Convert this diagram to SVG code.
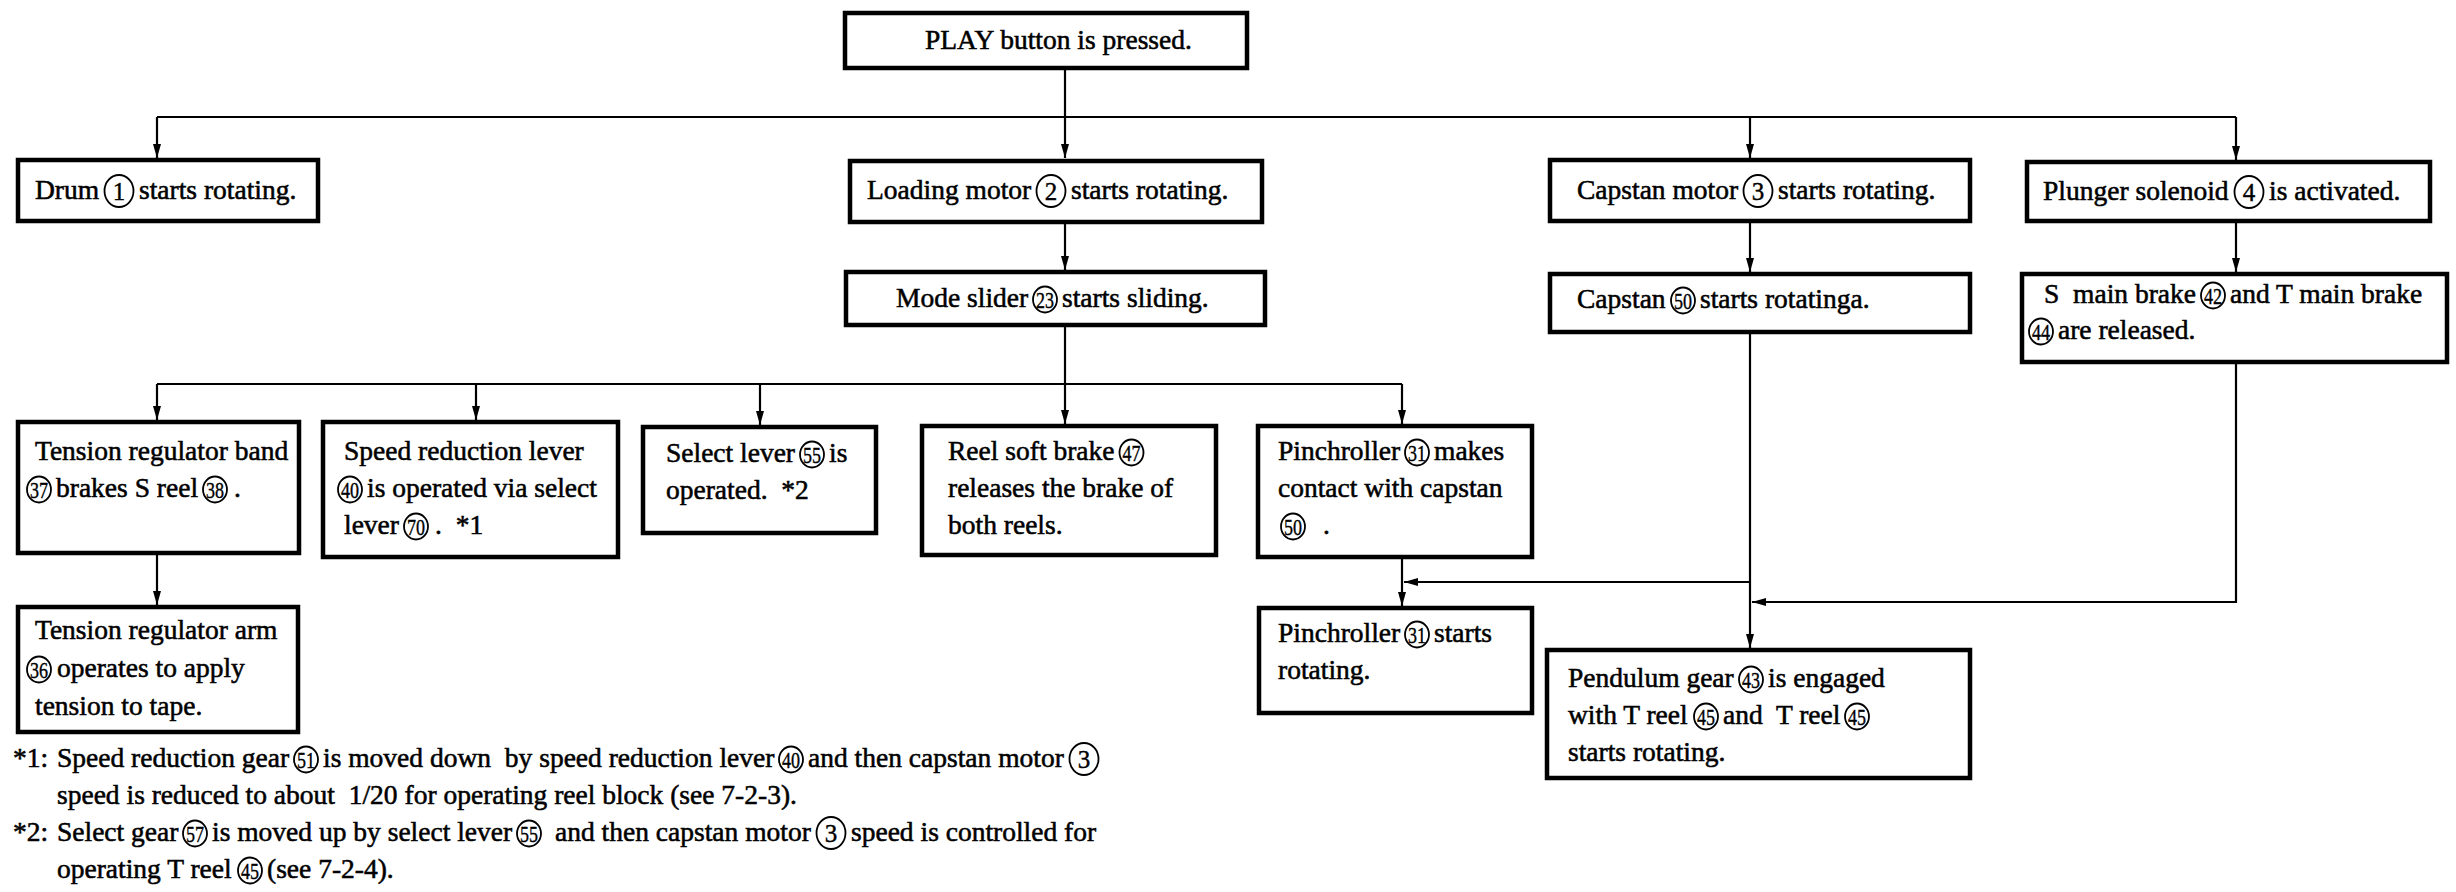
<svg xmlns="http://www.w3.org/2000/svg" width="2456" height="892" viewBox="0 0 2456 892">
  <defs>
    <style>
      .box { fill: #fff; stroke: #000; stroke-width: 4.5; }
      .t { font-family: "Liberation Serif", "Times New Roman", serif; font-size: 27.5px; fill: #000; stroke: #000; stroke-width: 0.55; }
      .ring { fill: none; stroke: #000; stroke-width: 1.8; }
      .n1 { font-family: "Liberation Serif", "Times New Roman", serif; font-size: 25px; text-anchor: middle; fill: #000; stroke: #000; stroke-width: 0.4; }
      .n2 { font-family: "Liberation Serif", "Times New Roman", serif; font-size: 24px; text-anchor: middle; fill: #000; stroke: #000; stroke-width: 0.4; }
      .ln { fill: none; stroke: #000; stroke-width: 2.2; }
    </style>
    <marker id="arr" markerUnits="userSpaceOnUse" viewBox="0 0 14 8" markerWidth="14" markerHeight="8" refX="14" refY="4" orient="auto">
      <path d="M0,0 L14,4 L0,8 z" fill="#000"/>
    </marker>
  </defs>
  <rect width="2456" height="892" fill="#fff"/>

  <!-- connectors -->
  <g id="connectors" class="ln">
    <line x1="1065" y1="68" x2="1065" y2="158" marker-end="url(#arr)"/>
    <line x1="157" y1="117" x2="2236" y2="117"/>
    <line x1="157" y1="117" x2="157" y2="158" marker-end="url(#arr)"/>
    <line x1="1750" y1="117" x2="1750" y2="158" marker-end="url(#arr)"/>
    <line x1="2236" y1="117" x2="2236" y2="160" marker-end="url(#arr)"/>
    <line x1="1065" y1="223" x2="1065" y2="270" marker-end="url(#arr)"/>
    <line x1="1750" y1="221" x2="1750" y2="272" marker-end="url(#arr)"/>
    <line x1="2236" y1="221" x2="2236" y2="272" marker-end="url(#arr)"/>
    <line x1="1065" y1="325" x2="1065" y2="424" marker-end="url(#arr)"/>
    <line x1="157" y1="384" x2="1402" y2="384"/>
    <line x1="157" y1="384" x2="157" y2="420" marker-end="url(#arr)"/>
    <line x1="476" y1="384" x2="476" y2="420" marker-end="url(#arr)"/>
    <line x1="760" y1="384" x2="760" y2="425" marker-end="url(#arr)"/>
    <line x1="1402" y1="384" x2="1402" y2="424" marker-end="url(#arr)"/>
    <line x1="157" y1="553" x2="157" y2="605" marker-end="url(#arr)"/>
    <line x1="1402" y1="557" x2="1402" y2="606" marker-end="url(#arr)"/>
    <line x1="1750" y1="332" x2="1750" y2="648" marker-end="url(#arr)"/>
    <line x1="1750" y1="582" x2="1404" y2="582" marker-end="url(#arr)"/>
    <polyline points="2236,362 2236,602 1752,602" marker-end="url(#arr)"/>
  </g>

  <!-- top -->
  <g id="n-play">
    <rect class="box" x="845" y="13" width="402" height="55"/>
    <text class="t" x="925" y="49">PLAY button is pressed.</text>
  </g>

  <!-- first level -->
  <g id="n-drum">
    <rect class="box" x="18" y="160" width="300" height="61"/>
    <text class="t" x="35" y="199">Drum</text>
    <ellipse class="ring" cx="119" cy="191" rx="14.5" ry="16"/><text class="n1" x="119" y="200">1</text>
    <text class="t" x="139" y="199">starts rotating.</text>
  </g>
  <g id="n-loading">
    <rect class="box" x="850" y="161" width="412" height="61"/>
    <text class="t" x="867" y="199">Loading motor</text>
    <ellipse class="ring" cx="1051" cy="191" rx="14.5" ry="16"/><text class="n1" x="1051" y="200">2</text>
    <text class="t" x="1071" y="199">starts rotating.</text>
  </g>
  <g id="n-capstan-motor">
    <rect class="box" x="1550" y="160" width="420" height="61"/>
    <text class="t" x="1577" y="199">Capstan motor</text>
    <ellipse class="ring" cx="1758" cy="191" rx="14.5" ry="16"/><text class="n1" x="1758" y="200">3</text>
    <text class="t" x="1778" y="199">starts rotating.</text>
  </g>
  <g id="n-plunger">
    <rect class="box" x="2027" y="162" width="403" height="59"/>
    <text class="t" x="2043" y="200">Plunger solenoid</text>
    <ellipse class="ring" cx="2249" cy="192" rx="14.5" ry="16"/><text class="n1" x="2249" y="201">4</text>
    <text class="t" x="2269" y="200">is activated.</text>
  </g>

  <!-- second level -->
  <g id="n-mode-slider">
    <rect class="box" x="846" y="272" width="419" height="53"/>
    <text class="t" x="896" y="307">Mode slider</text>
    <ellipse class="ring" cx="1045" cy="299.5" rx="12" ry="13"/><text class="n2" x="1045" y="307.5" textLength="18" lengthAdjust="spacingAndGlyphs">23</text>
    <text class="t" x="1062" y="307">starts sliding.</text>
  </g>
  <g id="n-capstan">
    <rect class="box" x="1550" y="274" width="420" height="58"/>
    <text class="t" x="1577" y="308">Capstan</text>
    <ellipse class="ring" cx="1683" cy="300.5" rx="12" ry="13"/><text class="n2" x="1683" y="308.5" textLength="18" lengthAdjust="spacingAndGlyphs">50</text>
    <text class="t" x="1700" y="308">starts rotatinga.</text>
  </g>
  <g id="n-main-brake">
    <rect class="box" x="2022" y="274" width="425" height="88"/>
    <text class="t" x="2044" y="303">S&#160; main brake</text>
    <ellipse class="ring" cx="2213" cy="295.5" rx="12" ry="13"/><text class="n2" x="2213" y="303.5" textLength="18" lengthAdjust="spacingAndGlyphs">42</text>
    <text class="t" x="2230" y="303">and T main brake</text>
    <ellipse class="ring" cx="2041" cy="331.5" rx="12" ry="13"/><text class="n2" x="2041" y="339.5" textLength="18" lengthAdjust="spacingAndGlyphs">44</text>
    <text class="t" x="2058" y="339">are released.</text>
  </g>

  <!-- third level -->
  <g id="n-tension-band">
    <rect class="box" x="18" y="422" width="281" height="131"/>
    <text class="t" x="35" y="460">Tension regulator band</text>
    <ellipse class="ring" cx="39" cy="489.5" rx="12" ry="13"/><text class="n2" x="39" y="497.5" textLength="18" lengthAdjust="spacingAndGlyphs">37</text>
    <text class="t" x="56" y="497">brakes S reel</text>
    <ellipse class="ring" cx="215" cy="489.5" rx="12" ry="13"/><text class="n2" x="215" y="497.5" textLength="18" lengthAdjust="spacingAndGlyphs">38</text>
    <text class="t" x="234" y="497">.</text>
  </g>
  <g id="n-speed-lever">
    <rect class="box" x="323" y="422" width="295" height="135"/>
    <text class="t" x="344" y="460">Speed reduction lever</text>
    <ellipse class="ring" cx="350" cy="489.5" rx="12" ry="13"/><text class="n2" x="350" y="497.5" textLength="18" lengthAdjust="spacingAndGlyphs">40</text>
    <text class="t" x="367" y="497">is operated via select</text>
    <text class="t" x="344" y="534">lever</text>
    <ellipse class="ring" cx="416" cy="526.5" rx="12" ry="13"/><text class="n2" x="416" y="534.5" textLength="18" lengthAdjust="spacingAndGlyphs">70</text>
    <text class="t" x="435" y="534">.&#160; *1</text>
  </g>
  <g id="n-select-lever">
    <rect class="box" x="643" y="427" width="233" height="106"/>
    <text class="t" x="666" y="462">Select lever</text>
    <ellipse class="ring" cx="812" cy="454.5" rx="12" ry="13"/><text class="n2" x="812" y="462.5" textLength="18" lengthAdjust="spacingAndGlyphs">55</text>
    <text class="t" x="829" y="462">is</text>
    <text class="t" x="666" y="499">operated.&#160; *2</text>
  </g>
  <g id="n-soft-brake">
    <rect class="box" x="922" y="426" width="294" height="129"/>
    <text class="t" x="948" y="460">Reel soft brake</text>
    <ellipse class="ring" cx="1131.5" cy="452.5" rx="12" ry="13"/><text class="n2" x="1131.5" y="460.5" textLength="18" lengthAdjust="spacingAndGlyphs">47</text>
    <text class="t" x="948" y="497">releases the brake of</text>
    <text class="t" x="948" y="534">both reels.</text>
  </g>
  <g id="n-pinch-contact">
    <rect class="box" x="1258" y="426" width="274" height="131"/>
    <text class="t" x="1278" y="460">Pinchroller</text>
    <ellipse class="ring" cx="1417" cy="452.5" rx="12" ry="13"/><text class="n2" x="1417" y="460.5" textLength="18" lengthAdjust="spacingAndGlyphs">31</text>
    <text class="t" x="1434" y="460">makes</text>
    <text class="t" x="1278" y="497">contact with capstan</text>
    <ellipse class="ring" cx="1293" cy="526.5" rx="12" ry="13"/><text class="n2" x="1293" y="534.5" textLength="18" lengthAdjust="spacingAndGlyphs">50</text>
    <text class="t" x="1323" y="534">.</text>
  </g>

  <!-- fourth level -->
  <g id="n-tension-arm">
    <rect class="box" x="18" y="607" width="280" height="125"/>
    <text class="t" x="35" y="639">Tension regulator arm</text>
    <ellipse class="ring" cx="39" cy="669.5" rx="12" ry="13"/><text class="n2" x="39" y="677.5" textLength="18" lengthAdjust="spacingAndGlyphs">36</text>
    <text class="t" x="57" y="677">operates to apply</text>
    <text class="t" x="35" y="715">tension to tape.</text>
  </g>
  <g id="n-pinch-rotate">
    <rect class="box" x="1259" y="608" width="273" height="105"/>
    <text class="t" x="1278" y="642">Pinchroller</text>
    <ellipse class="ring" cx="1417" cy="634.5" rx="12" ry="13"/><text class="n2" x="1417" y="642.5" textLength="18" lengthAdjust="spacingAndGlyphs">31</text>
    <text class="t" x="1434" y="642">starts</text>
    <text class="t" x="1278" y="679">rotating.</text>
  </g>
  <g id="n-pendulum">
    <rect class="box" x="1547" y="650" width="423" height="128"/>
    <text class="t" x="1568" y="687">Pendulum gear</text>
    <ellipse class="ring" cx="1751" cy="679.5" rx="12" ry="13"/><text class="n2" x="1751" y="687.5" textLength="18" lengthAdjust="spacingAndGlyphs">43</text>
    <text class="t" x="1768" y="687">is engaged</text>
    <text class="t" x="1568" y="724">with T reel</text>
    <ellipse class="ring" cx="1706" cy="716.5" rx="12" ry="13"/><text class="n2" x="1706" y="724.5" textLength="18" lengthAdjust="spacingAndGlyphs">45</text>
    <text class="t" x="1723" y="724">and&#160; T reel</text>
    <ellipse class="ring" cx="1857" cy="716.5" rx="12" ry="13"/><text class="n2" x="1857" y="724.5" textLength="18" lengthAdjust="spacingAndGlyphs">45</text>
    <text class="t" x="1568" y="761">starts rotating.</text>
  </g>

  <!-- footnotes -->
  <g id="notes">
    <text class="t" x="13" y="767">*1:</text>
    <text class="t" x="57" y="767">Speed reduction gear</text>
    <ellipse class="ring" cx="306" cy="759.5" rx="12" ry="13"/><text class="n2" x="306" y="767.5" textLength="18" lengthAdjust="spacingAndGlyphs">51</text>
    <text class="t" x="323" y="767">is moved down&#160; by speed reduction lever</text>
    <ellipse class="ring" cx="791" cy="759.5" rx="12" ry="13"/><text class="n2" x="791" y="767.5" textLength="18" lengthAdjust="spacingAndGlyphs">40</text>
    <text class="t" x="808" y="767">and then capstan motor</text>
    <ellipse class="ring" cx="1084" cy="759" rx="14.5" ry="16"/><text class="n1" x="1084" y="768">3</text>
    <text class="t" x="57" y="804">speed is reduced to about&#160; 1/20 for operating reel block (see 7-2-3).</text>
    <text class="t" x="13" y="841">*2:</text>
    <text class="t" x="57" y="841">Select gear</text>
    <ellipse class="ring" cx="195" cy="833.5" rx="12" ry="13"/><text class="n2" x="195" y="841.5" textLength="18" lengthAdjust="spacingAndGlyphs">57</text>
    <text class="t" x="212" y="841">is moved up by select lever</text>
    <ellipse class="ring" cx="529" cy="833.5" rx="12" ry="13"/><text class="n2" x="529" y="841.5" textLength="18" lengthAdjust="spacingAndGlyphs">55</text>
    <text class="t" x="555" y="841">and then capstan motor</text>
    <ellipse class="ring" cx="831" cy="833" rx="14.5" ry="16"/><text class="n1" x="831" y="842">3</text>
    <text class="t" x="851" y="841">speed is controlled for</text>
    <text class="t" x="57" y="878">operating T reel</text>
    <ellipse class="ring" cx="250" cy="870.5" rx="12" ry="13"/><text class="n2" x="250" y="878.5" textLength="18" lengthAdjust="spacingAndGlyphs">45</text>
    <text class="t" x="267" y="878">(see 7-2-4).</text>
  </g>
</svg>
